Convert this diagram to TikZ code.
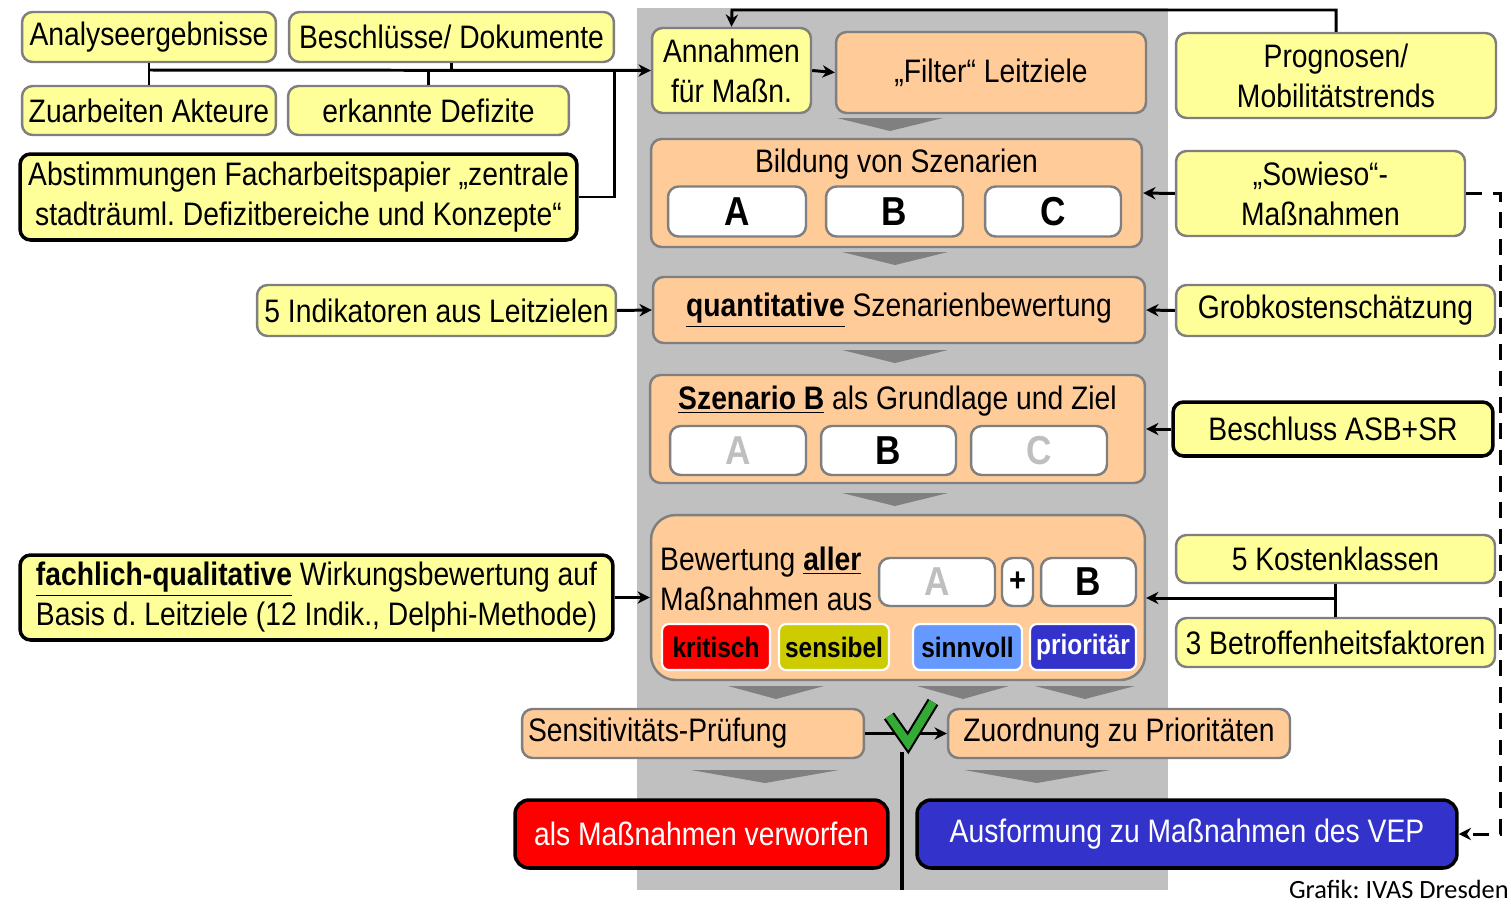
\documentclass[tikz,border=0pt]{standalone}
\usepackage{fontspec}
\setmainfont{Liberation Sans}[FakeStretch=0.87]
\newfontfamily\grafikfont{Carlito}
\usetikzlibrary{arrows.meta,positioning}
\frenchspacing

\definecolor{boxyellow}{HTML}{FFFF99}
\definecolor{boxorange}{HTML}{FFCC99}
\definecolor{boxgray}{HTML}{7F7F7F}
\definecolor{bggray}{HTML}{C0C0C0}
\definecolor{chevgray}{HTML}{808080}
\definecolor{lettergray}{HTML}{BFBFBF}
\definecolor{tagred}{HTML}{FF0000}
\definecolor{tagolive}{HTML}{CCCC00}
\definecolor{tagblue}{HTML}{6699FF}
\definecolor{tagdark}{HTML}{3333CC}
\definecolor{checkgreen}{HTML}{33AA33}

\tikzset{
  box/.style={draw=boxgray, line width=1.4pt, rounded corners=6pt, align=center, inner sep=2pt},
  ybox/.style={box, fill=boxyellow},
  obox/.style={box, fill=boxorange},
  kbox/.style={ybox, draw=black, line width=2pt},
  letterbox/.style={box, fill=white, minimum height=1cm, font=\fontsize{23}{25}\selectfont\bfseries},
  tag/.style={draw=white, line width=1.2pt, rounded corners=4pt, minimum height=0.92cm, inner sep=1pt,
    font=\fontsize{16}{18}\selectfont\bfseries},
  endbox/.style={draw=black, line width=2pt, rounded corners=8pt, text=white, minimum height=1.36cm},
  conn/.style={line width=1.7pt},
  chev/.pic={\fill[chevgray] (-#1,0) -- (#1,0) -- (0,13) -- cycle;}
}

\begin{document}
\begin{tikzpicture}[x=0.02cm, y=-0.02cm, >={Stealth[length=7pt,width=7pt]},
  every node/.style={font=\fontsize{18.5}{22.8}\selectfont}]
  \useasboundingbox (0,0) rectangle (1511,903);
  % grey column behind the main flow
  \fill[bggray] (637,8) rectangle (1168,890);

  % inputs on the left
  \node[ybox, minimum width=5.08cm, minimum height=1cm]    (ana)    at (149,37)    {Analyseergebnisse};
  \node[ybox, minimum width=6.5cm, minimum height=1cm]     (besch)  at (451.5,37)  {Beschlüsse/ Dokumente};
  \node[ybox, minimum width=5.08cm, minimum height=0.98cm] (zuarb)  at (149,110.5) {Zuarbeiten Akteure};
  \node[ybox, minimum width=5.62cm, minimum height=0.98cm] (defiz)  at (428.5,110.5) {erkannte Defizite};
  \node[kbox, minimum width=11.14cm, minimum height=1.72cm] (abst)  at (298.5,197)
    {Abstimmungen Facharbeitspapier „zentrale\\stadträuml. Defizitbereiche und Konzepte“};

  % main flow
  \node[ybox, minimum width=3.18cm, minimum height=1.7cm]  (annahmen) at (731.5,70.5) {Annahmen\\für Maßn.};
  \node[obox, minimum width=6.2cm, minimum height=1.62cm]  (filter)   at (991,72.5)   {„Filter“ Leitziele};
  \node[obox, minimum width=9.82cm, minimum height=2.16cm] (bildung)  at (896.5,193)  {};
  \node (bildungtxt) at (896.5,164) {Bildung von Szenarien};
  \node[letterbox, minimum width=2.76cm] (sa) at (737,211.5)   {A};
  \node[letterbox, minimum width=2.74cm] (sb) at (894.5,211.5) {B};
  \node[letterbox, minimum width=2.72cm] (sc) at (1053,211.5)  {C};

  \node[obox, minimum width=9.84cm, minimum height=1.32cm] (quant) at (899,310)
    {\underline{\textbf{quantitative}} Szenarienbewertung};

  \node[obox, minimum width=9.9cm, minimum height=2.16cm] (szen) at (897.5,429) {};
  \node (szentxt) at (897.5,401) {\underline{\textbf{Szenario B}} als Grundlage und Ziel};
  \node[letterbox, minimum width=2.72cm, minimum height=0.98cm, text=lettergray] (za) at (738,450.5)   {A};
  \node[letterbox, minimum width=2.7cm,  minimum height=0.98cm]                  (zb) at (888.5,450.5) {B};
  \node[letterbox, minimum width=2.72cm, minimum height=0.98cm, text=lettergray] (zc) at (1039,450.5)  {C};

  \node[obox, rounded corners=14pt, minimum width=9.88cm, minimum height=3.3cm] (bew) at (898,597.5) {};
  \node[anchor=west, align=left] (bewtxt) at (654,579)
    {Bewertung \underline{\textbf{aller}}\\Maßnahmen aus};
  \node[letterbox, minimum width=2.32cm, minimum height=0.96cm, text=lettergray] (ba) at (937,582)    {A};
  \node[letterbox, minimum width=0.62cm, minimum height=0.96cm, inner sep=0pt,
    font=\fontsize{19}{21}\selectfont\bfseries] (plus) at (1017.5,582) {+};
  \node[letterbox, minimum width=1.9cm, minimum height=0.96cm] (bb) at (1088.5,582) {B};
  \node[tag, fill=tagred,   minimum width=2.16cm] (krit)  at (716,647)    {kritisch};
  \node[tag, fill=tagolive, minimum width=2.2cm]  (sensi) at (834,647)    {sensibel};
  \node[tag, fill=tagblue,  minimum width=2.18cm] (sinn)  at (967.5,647)  {sinnvoll};
  \node[tag, fill=tagdark,  minimum width=2.12cm, text=white] (prio) at (1083,647) {prioritär};

  \node[obox, minimum width=6.84cm, minimum height=0.98cm, align=left,
    text width=6.6cm] (sens) at (693,733.5) {Sensitivitäts-Prüfung};
  \node[obox, minimum width=6.84cm, minimum height=0.98cm] (zuord) at (1119,733.5) {Zuordnung zu Prioritäten};
  \node[endbox, fill=tagred,  minimum width=7.46cm] (verw) at (701.5,834) {als Maßnahmen verworfen};
  \node[endbox, fill=tagdark, minimum width=10.8cm] (ausf) at (1187,834)  {Ausformung zu Maßnahmen des VEP};

  % inputs on the right and lower left
  \node[ybox, minimum width=6.4cm, minimum height=1.7cm]   (prog)    at (1336,75.5)    {Prognosen/\\Mobilitätstrends};
  \node[ybox, minimum width=5.78cm, minimum height=1.7cm]  (sowieso) at (1320.5,193.5) {„Sowieso“-\\Maßnahmen};
  \node[ybox, minimum width=7.18cm, minimum height=1.02cm] (indik)   at (436.5,310.5)  {5 Indikatoren aus Leitzielen};
  \node[ybox, minimum width=6.38cm, minimum height=1.02cm] (grob)    at (1335.5,310.5) {Grobkostenschätzung};
  \node[kbox, minimum width=6.4cm, minimum height=1.08cm]  (beschl)  at (1333,429)     {Beschluss ASB+SR};
  \node[kbox, minimum width=11.86cm, minimum height=1.7cm] (fach)    at (316.5,597.5)
    {\underline{\textbf{fachlich-qualitative}} Wirkungsbewertung auf\\Basis d. Leitziele (12 Indik., Delphi-Methode)};
  \node[ybox, minimum width=6.38cm, minimum height=0.96cm] (kosten)  at (1335.5,559)   {5 Kostenklassen};
  \node[ybox, minimum width=6.38cm, minimum height=0.98cm] (betr)    at (1335.5,642.5) {3 Betroffenheitsfaktoren};

  % chevrons
  \pic at (890,118) {chev=53};
  \pic at (895,252) {chev=53};
  \pic at (895,350) {chev=53};
  \pic at (895,493) {chev=53};
  \pic at (776,686) {chev=48};
  \pic at (963,686) {chev=46};
  \pic at (1085,686) {chev=50};
  \pic at (765,770) {chev=74};
  \pic at (1037,770) {chev=73};

  % connectors
  \coordinate (jl) at (149,70);
  \coordinate (jr) at (614,70);
  \coordinate (top) at (732,10);
  \coordinate (kj) at (1335.5,598);
  \coordinate (dr) at (1500,193.5);
  \coordinate (vtop) at (902,752);
  \coordinate (vbot) at (902,890);
  \draw[conn] (ana.south) -- (zuarb.north);
  \draw[conn] (besch.south) -- (besch.south |- jl);
  \draw[conn] (defiz.north) -- (defiz.north |- jl);
  \draw[conn] (abst.east) -| (jr);
  \draw[conn,->] (jl) -- (annahmen.west);
  \draw[conn,->] (prog.north) |- (top) -- (annahmen.north);
  \draw[conn,->] (annahmen.east) -- (filter.west);
  \draw[conn,->] (sowieso.west) -- (bildung.east);
  \draw[conn,->] (indik.east) -- (quant.west);
  \draw[conn,->] (grob.west) -- (quant.east);
  \draw[conn,->] (beschl.west) -- (szen.east);
  \draw[conn,->] (fach.east) -- (bew.west);
  \draw[conn] (kosten.south) -- (betr.north);
  \draw[conn,->] (kj) -- (bew.east |- kj);
  \draw[conn,dashed,dash pattern=on 9pt off 6pt,->] (sowieso.east) -- (dr) |- (ausf.east);
  \draw[conn,->] (sens.east) -- (zuord.west);
  \draw[line width=2.6pt] (vtop) -- (vbot);

  % check mark
  \draw[line width=7pt, line join=miter] (889,716) -- (908,743) -- (933,702);
  \draw[checkgreen, line width=4.6pt, line join=miter] (889,716) -- (908,743) -- (933,702);

  \node[anchor=base east, inner sep=0pt, font=\grafikfont\fontsize{15}{17}\selectfont] (credit) at (1509,898) {Grafik: IVAS Dresden};
\end{tikzpicture}
\end{document}
